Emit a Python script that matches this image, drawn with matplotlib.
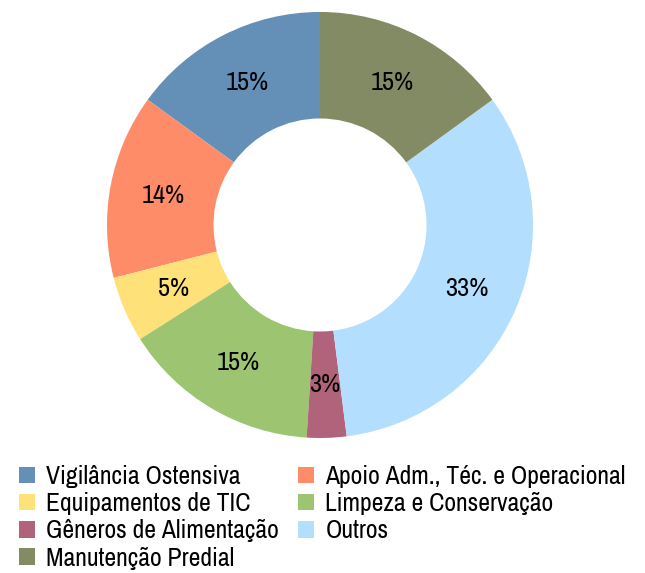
import matplotlib.pyplot as plt
from matplotlib import font_manager
from matplotlib.patches import Patch

categorias = ["Vigilância Ostensiva", "Apoio Adm., Téc. e Operacional",
              "Equipamentos de TIC", "Limpeza e Conservação",
              "Gêneros de Alimentação", "Outros", "Manutenção Predial"]
percentuais = [15, 14, 5, 15, 3, 33, 15]
cores = ["#6490b8", "#ff8c69", "#ffe17a", "#9cc471", "#b0637a", "#b4defd", "#838b65"]

# fonte estreita, se houver
nomes = {f.name for f in font_manager.fontManager.ttflist}
candidatas = ["Liberation Sans Narrow", "Arial Narrow", "Archivo Narrow",
              "Roboto Condensed", "Liberation Sans"]
fonte = next(n for n in candidatas if n in nomes)
plt.rcParams['font.family'] = [fonte, 'DejaVu Sans']

fig = plt.figure(figsize=(6.45, 5.73), dpi=100)
ax = fig.add_axes([0.1659, 0.2356, 0.6605, 0.7435])

wedges, textos = ax.pie(percentuais, colors=cores, startangle=90, counterclock=True,
                        radius=1.0, wedgeprops=dict(width=0.5, linewidth=0),
                        labels=[f"{p}%" for p in percentuais], labeldistance=0.75)
for t in textos:
    t.set_ha("center")
    t.set_va("center")
    t.set_fontsize(19)
ax.set_xlim(-1, 1)
ax.set_ylim(-1, 1)
ax.set_aspect("equal")

handles = [Patch(facecolor=c, edgecolor="none") for c in cores]
# duas colunas, preenchidas por linha
ordem = [0, 2, 4, 6, 1, 3, 5]
fig.legend([handles[i] for i in ordem], [categorias[i] for i in ordem],
           ncol=2, loc="upper left", bbox_to_anchor=(0.03, 0.188),
           frameon=False, fontsize=18.5, handlelength=0.6, handleheight=0.6,
           handletextpad=0.45, labelspacing=0.16, columnspacing=0.75,
           borderaxespad=0, borderpad=0)

fig.savefig("out.png", dpi=100)
